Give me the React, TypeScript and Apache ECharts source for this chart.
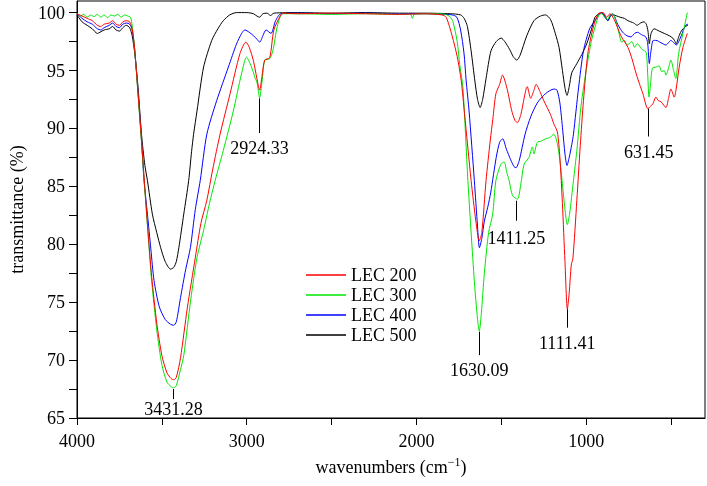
import React, { useEffect, useRef } from 'react';
import * as echarts from 'echarts';

const FONT = 'Liberation Serif, Times New Roman, Times, serif';

const seriesNames = ['LEC 200', 'LEC 300', 'LEC 400', 'LEC 500'];
const seriesColors = ['#ff0000', '#00e600', '#0000ff', '#000000'];

const xTickValues = [4000, 3500, 3000, 2500, 2000, 1500, 1000, 500];
const xLabelValues = [4000, 3000, 2000, 1000];
const yTickValues = [65, 67.5, 70, 72.5, 75, 77.5, 80, 82.5, 85, 87.5, 90, 92.5, 95, 97.5, 100];
const yLabelValues = [65, 70, 75, 80, 85, 90, 95, 100];

// peak annotations
const peakLabels = ['3431.28', '2924.33', '1630.09', '1411.25', '1111.41', '631.45'];
const peakWave = [3431.28, 2924.33, 1630.09, 1411.25, 1111.41, 631.45];
const peakLineTop = [67.5, 92.6, 72.45, 83.76, 74.4, 91.72];
const peakLineBottom = [66.63, 89.6, 70.43, 82.03, 72.8, 89.3];
const peakLabelGap = [1, 6, 6, 8, 6, 6];

const lec200 = [
  [4000, 99.9], [3970, 99.7], [3940, 99.5], [3910, 99.3], [3880, 98.9], [3860, 98.8], [3840, 99.0], [3810, 99.1],
  [3790, 99.3], [3770, 99.0], [3750, 98.9], [3730, 99.2], [3710, 99.3], [3690, 99.2], [3675, 98.6], [3660, 96.8],
  [3640, 93.0], [3620, 89.0], [3600, 84.8], [3580, 80.8], [3560, 77.2], [3530, 73.2], [3500, 70.4], [3470, 68.9],
  [3445, 68.4], [3431, 68.3], [3415, 68.5], [3390, 70.2], [3350, 74.5], [3303, 78.85], [3270, 81.8], [3235, 83.8],
  [3200, 86.5], [3157, 89.5], [3098, 93.0], [3040, 96.45], [3005, 97.45], [2985, 97.0], [2960, 95.8], [2940, 94.3],
  [2924, 93.3], [2910, 94.5], [2894, 95.9], [2865, 96.1], [2840, 98.5], [2800, 99.8], [2788, 99.95], [2700, 99.9],
  [2500, 99.95], [2300, 99.9], [2100, 99.85], [1950, 99.9], [1850, 99.8], [1825, 99.6], [1790, 98.0], [1760, 96.2],
  [1736, 94.1], [1717, 91.3], [1678, 85.5], [1650, 82.0], [1630, 80.3], [1615, 81.0], [1590, 85.5], [1565, 89.0],
  [1550, 90.8], [1532, 93.0], [1510, 93.8], [1493, 94.6], [1464, 93.3], [1440, 91.6], [1420, 90.7], [1405, 90.5],
  [1385, 91.2], [1347, 93.6], [1327, 92.6], [1310, 93.2], [1295, 93.8], [1270, 93.1], [1250, 92.4], [1210, 91.2],
  [1191, 90.4], [1170, 89.7], [1155, 87.5], [1140, 83.5], [1125, 78.5], [1111, 74.4], [1100, 75.8], [1088, 78.2],
  [1078, 78.8], [1055, 83.8], [1035, 88.5], [1016, 92.4], [990, 96.5], [958, 98.75], [929, 99.9], [900, 100],
  [880, 99.6], [860, 99.9], [835, 99.4], [810, 98.5], [792, 97.9], [754, 97.0], [730, 96.0], [705, 94.7],
  [685, 93.8], [666, 93.0], [637, 91.7], [622, 91.9], [608, 92.1], [589, 92.7], [575, 92.4], [559, 92.3],
  [530, 91.8], [515, 92.6], [501, 93.4], [481, 92.7], [470, 93.4], [452, 95.3], [430, 97.0], [404, 98.2],
];

const lec300 = [
  [4000, 99.95], [3980, 99.7], [3960, 99.85], [3940, 99.6], [3920, 99.8], [3900, 99.65], [3880, 99.85], [3860, 99.6],
  [3840, 99.8], [3820, 99.55], [3800, 99.8], [3780, 99.7], [3760, 99.85], [3740, 99.6], [3720, 99.8], [3700, 99.7],
  [3685, 99.6], [3675, 98.9], [3660, 96.8], [3640, 92.8], [3620, 88.8], [3600, 84.6], [3580, 80.6], [3560, 76.8],
  [3530, 72.6], [3500, 69.6], [3470, 68.1], [3445, 67.7], [3431, 67.6], [3415, 67.8], [3390, 69.2], [3371, 70.4],
  [3330, 75.2], [3293, 78.85], [3254, 81.2], [3220, 83.5], [3186, 85.5], [3138, 88.1], [3079, 91.5], [3031, 94.7],
  [3001, 96.15], [2980, 95.6], [2960, 94.8], [2952, 94.4], [2940, 94.0], [2924, 92.65], [2910, 94.0], [2894, 95.9],
  [2866, 96.0], [2846, 96.7], [2820, 98.8], [2788, 99.9], [2700, 99.9], [2500, 99.85], [2300, 99.9], [2100, 99.85],
  [2035, 99.85], [2024, 99.5], [2012, 99.85], [1900, 99.9], [1830, 99.85], [1800, 99.6], [1785, 99.2], [1760, 97.5],
  [1745, 95.5], [1726, 93.5], [1697, 85.5], [1659, 76.8], [1640, 73.5], [1630, 72.5], [1618, 74.0], [1600, 77.5],
  [1575, 81.0], [1551, 82.6], [1532, 85.5], [1503, 86.9], [1483, 87.1], [1468, 86.2], [1454, 85.5], [1434, 84.2],
  [1405, 83.9], [1385, 85.2], [1366, 86.9], [1337, 87.5], [1317, 88.4], [1308, 87.8], [1288, 88.8], [1265, 88.9],
  [1240, 89.1], [1215, 89.2], [1191, 89.5], [1175, 89.0], [1160, 87.8], [1142, 85.5], [1125, 83.0], [1111, 81.7],
  [1098, 82.6], [1075, 85.5], [1055, 88.1], [1030, 92.0], [997, 95.3], [970, 97.5], [948, 98.75], [925, 99.8],
  [909, 99.9], [890, 99.6], [875, 99.4], [860, 99.8], [843, 99.9], [820, 99.0], [800, 97.8], [792, 97.45],
  [775, 97.6], [760, 97.2], [748, 97.3], [730, 97.5], [715, 97.0], [700, 97.3], [690, 97.2], [670, 96.8],
  [655, 96.7], [645, 96.5], [637, 94.5], [630, 92.7], [622, 93.6], [610, 95.2], [589, 95.3], [570, 95.4],
  [555, 94.9], [540, 95.0], [530, 94.6], [515, 95.2], [501, 95.9], [485, 95.0], [472, 94.3], [455, 96.5],
  [430, 98.2], [404, 100],
];

const lec400 = [
  [4000, 99.9], [3970, 99.5], [3940, 99.2], [3910, 99.0], [3880, 98.6], [3860, 98.5], [3840, 98.7], [3810, 98.9],
  [3790, 99.1], [3770, 98.8], [3750, 98.7], [3730, 99.0], [3710, 99.1], [3690, 99.0], [3675, 98.5], [3660, 96.8],
  [3640, 93.0], [3620, 89.0], [3605, 85.5], [3585, 82.6], [3565, 79.6], [3546, 76.85], [3515, 74.6], [3480, 73.5],
  [3450, 73.1], [3431, 73.0], [3415, 73.3], [3390, 75.4], [3360, 77.8], [3332, 79.7], [3303, 83.0], [3274, 85.5],
  [3235, 89.5], [3177, 92.4], [3108, 95.3], [3060, 97.3], [3030, 98.2], [3011, 98.5], [2985, 98.3], [2960, 98.0],
  [2940, 97.7], [2923, 97.45], [2905, 98.0], [2886, 98.5], [2857, 98.2], [2830, 99.3], [2799, 99.9], [2700, 99.95],
  [2500, 99.9], [2300, 99.95], [2100, 99.9], [1950, 99.9], [1850, 99.85], [1790, 99.8], [1762, 99.6], [1740, 98.5],
  [1720, 96.5], [1707, 94.1], [1690, 91.5], [1659, 85.5], [1640, 81.5], [1629, 79.7], [1615, 80.5], [1600, 82.0],
  [1580, 83.2], [1562, 84.5], [1530, 87.5], [1510, 88.8], [1492, 89.1], [1470, 88.2], [1445, 87.3], [1425, 86.7],
  [1414, 86.6], [1395, 87.2], [1360, 89.5], [1327, 91.0], [1288, 92.2], [1240, 93.0], [1190, 93.4], [1172, 93.3],
  [1155, 92.2], [1138, 89.8], [1125, 87.8], [1113, 86.8], [1100, 87.5], [1085, 88.6], [1075, 89.5], [1045, 93.5],
  [1016, 96.7], [980, 98.6], [948, 99.3], [925, 99.8], [909, 100], [890, 99.6], [872, 99.3], [858, 99.7],
  [843, 99.9], [815, 99.0], [785, 98.3], [760, 98.0], [736, 97.9], [715, 98.2], [698, 98.3], [675, 98.1],
  [649, 97.9], [638, 97.4], [628, 95.6], [620, 96.5], [605, 97.6], [589, 97.6], [560, 97.4], [530, 97.2],
  [515, 97.4], [501, 97.6], [485, 97.4], [469, 97.2], [440, 98.0], [415, 98.9], [400, 99.0],
];

const lec500 = [
  [4000, 99.8], [3970, 99.2], [3940, 98.9], [3910, 98.6], [3880, 98.2], [3865, 98.3], [3840, 98.5], [3810, 98.6],
  [3790, 98.8], [3770, 98.5], [3750, 98.4], [3730, 98.7], [3710, 98.9], [3690, 98.7], [3675, 98.0], [3660, 96.5],
  [3640, 93.5], [3620, 89.5], [3600, 86.8], [3585, 85.5], [3556, 82.6], [3530, 81.0], [3507, 79.7], [3480, 78.5],
  [3449, 77.85], [3430, 78.0], [3415, 78.5], [3400, 79.7], [3371, 82.6], [3342, 85.5], [3325, 88.0], [3313, 89.5],
  [3293, 91.5], [3254, 95.3], [3206, 97.6], [3170, 98.6], [3138, 99.3], [3100, 99.8], [3060, 100], [3000, 100],
  [2960, 99.9], [2940, 99.7], [2924, 99.6], [2905, 99.9], [2880, 99.95], [2860, 99.75], [2840, 99.95], [2700, 100],
  [2500, 99.95], [2300, 100], [2100, 99.95], [1950, 99.95], [1800, 99.9], [1740, 99.8], [1719, 99.5], [1700, 98.8],
  [1678, 96.7], [1655, 94.0], [1640, 92.5], [1625, 91.8], [1610, 92.5], [1590, 94.3], [1561, 96.7], [1530, 97.5],
  [1501, 97.8], [1480, 97.5], [1450, 96.8], [1430, 96.2], [1409, 95.9], [1390, 96.3], [1350, 98.0], [1308, 99.3],
  [1270, 99.7], [1240, 99.8], [1210, 99.4], [1182, 98.2], [1160, 97.0], [1140, 95.0], [1125, 93.5], [1113, 92.85],
  [1100, 93.6], [1085, 94.8], [1055, 95.6], [1025, 96.4], [997, 97.3], [970, 98.5], [948, 99.6], [925, 99.9],
  [909, 100], [890, 99.7], [872, 99.3], [858, 99.7], [843, 99.8], [800, 99.6], [775, 99.5], [754, 99.3],
  [720, 99.1], [700, 98.9], [680, 99.1], [660, 99.2], [646, 99.0], [636, 98.4], [628, 97.3], [618, 98.2],
  [600, 98.6], [570, 98.4], [540, 98.2], [510, 98.0], [490, 97.8], [480, 97.6], [470, 97.3], [455, 97.9],
  [440, 98.4], [415, 98.8], [400, 98.9],
];

const seriesData = [lec200, lec300, lec400, lec500];

export default function App() {
  const ref = useRef<HTMLDivElement>(null);
  useEffect(() => {
    const chart = echarts.init(ref.current!, null, { renderer: 'svg' });
    const markData = peakLabels.map((txt, i) => [
      {
        coord: [peakWave[i], peakLineTop[i]],
        label: { formatter: txt, distance: peakLabelGap[i] },
      },
      { coord: [peakWave[i], peakLineBottom[i]] },
    ]);
    chart.setOption({
      animation: false,
      textStyle: { fontFamily: FONT },
      grid: {
        left: 72,
        right: 2,
        top: 1,
        bottom: 68,
        show: true,
        borderColor: '#000',
        borderWidth: 1,
      },
      legend: {
        orient: 'vertical',
        left: 301,
        top: 261,
        itemWidth: 40,
        itemHeight: 1.5,
        itemGap: 2,
        icon: 'rect',
        data: seriesNames,
        textStyle: { fontFamily: FONT, fontSize: 18, color: '#000', lineHeight: 18 },
      },
      xAxis: {
        type: 'value',
        inverse: true,
        min: 300,
        max: 4000,
        name: 'wavenumbers (cm{s|−1})',
        nameLocation: 'middle',
        nameGap: 38,
        nameTextStyle: {
          fontFamily: FONT,
          fontSize: 18,
          color: '#000',
          rich: { s: { fontFamily: FONT, fontSize: 12, color: '#000', verticalAlign: 'top', padding: [0, 0, 10, 0] } },
        },
        axisLine: { show: true, lineStyle: { color: '#000', width: 1 } },
        axisTick: { show: true, length: 7, customValues: xTickValues, lineStyle: { color: '#000' } },
        axisLabel: {
          customValues: xLabelValues,
          formatter: (v: number) => String(v),
          fontFamily: FONT,
          fontSize: 18,
          color: '#000',
          margin: 14,
        },
        splitLine: { show: false },
      },
      yAxis: {
        type: 'value',
        min: 65,
        max: 101,
        name: 'transmittance (%)',
        nameLocation: 'middle',
        nameGap: 51,
        nameTextStyle: { fontFamily: FONT, fontSize: 18, color: '#000' },
        axisLine: { show: true, lineStyle: { color: '#000', width: 1 } },
        axisTick: { show: true, length: 8, customValues: yTickValues, lineStyle: { color: '#000' } },
        axisLabel: {
          customValues: yLabelValues,
          formatter: (v: number) => String(v),
          fontFamily: FONT,
          fontSize: 18,
          color: '#000',
          margin: 12,
        },
        splitLine: { show: false },
      },
      series: seriesNames.map((name, i) => ({
        name,
        type: 'line',
        data: seriesData[i],
        symbol: 'none',
        showSymbol: false,
        smooth: 0.25,
        silent: true,
        color: seriesColors[i],
        itemStyle: { color: seriesColors[i] },
        lineStyle: { color: seriesColors[i], width: 1 },
        z: 2 + (3 - i),
        markLine:
          i === 3
            ? {
                silent: true,
                symbol: ['none', 'none'],
                lineStyle: { color: '#000', width: 1, type: 'solid' },
                label: { show: true, position: 'end', fontFamily: FONT, fontSize: 18, color: '#000' },
                data: markData,
              }
            : undefined,
      })),
    });
    return () => chart.dispose();
  }, []);
  return <div ref={ref} style={{ position: 'fixed', left: 0, top: 0, width: 707, height: 486 }} />;
}
